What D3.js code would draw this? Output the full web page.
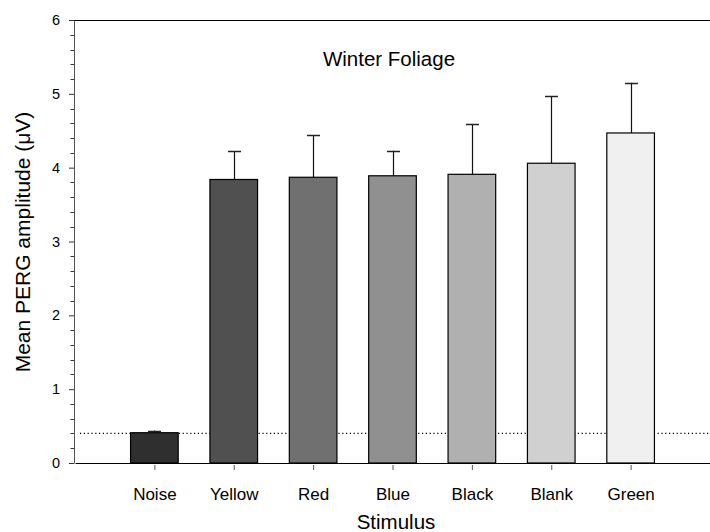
<!DOCTYPE html>
<html><head><meta charset="utf-8">
<script src="https://cdn.jsdelivr.net/npm/d3@7/dist/d3.min.js"></script>
<style>body{margin:0;background:#fff}svg{display:block;font-family:"Liberation Sans",Arial,sans-serif}</style>
</head><body><svg id="c" width="710" height="532"></svg>
<script>
const categories = ["Noise","Yellow","Red","Blue","Black","Blank","Green"];
const means = [0.41, 3.84, 3.87, 3.89, 3.91, 4.06, 4.47];
const errors = [0.03, 0.38, 0.57, 0.34, 0.68, 0.91, 0.68];
const fills = ["#2f2f2f","#505050","#707070","#909090","#b0b0b0","#d0d0d0","#f0f0f0"];
const yTicks = [0,1,2,3,4,5,6];
const noiseLevel = 0.4;

(function(){
const FONT = "Liberation Sans, Arial, sans-serif";
const svg = d3.select("#c");
const mLeft = 75, mRight = 710, mTop = 20, mBottom = 463;
const x = d3.scaleLinear().domain([0, 8]).range([mLeft, mRight]);
const y = d3.scaleLinear().domain([0, 6]).range([mBottom, mTop]);
const barW = x(0.6) - x(0);

// frame top line
svg.append("line").attr("x1", mLeft - 5).attr("x2", mRight).attr("y1", y(6) + 0.5).attr("y2", y(6) + 0.5).attr("stroke", "#000");

// minor y ticks
const minor = d3.range(0, 6.001, 0.2).filter(v => Math.abs(v - Math.round(v)) > 1e-6);
svg.append("g").selectAll("line").data(minor).join("line")
  .attr("x1", mLeft - 4.5).attr("x2", mLeft).attr("y1", d => Math.round(y(d)) + 0.5).attr("y2", d => Math.round(y(d)) + 0.5)
  .attr("stroke", "#333");

// y axis
const yAxis = svg.append("g").attr("transform", `translate(${mLeft - 1},0)`)
  .call(d3.axisLeft(y).tickValues(yTicks).tickSize(5).tickSizeOuter(0).tickPadding(9).tickFormat(d3.format("d")));
yAxis.select(".domain").attr("stroke", "#555");
yAxis.selectAll(".tick line").attr("stroke", "#333");
yAxis.selectAll("text").attr("font-size", 14.5).attr("fill", "#000").attr("font-family", FONT);

// x axis
const xAxis = svg.append("g").attr("transform", `translate(0,${mBottom})`)
  .call(d3.axisBottom(x).tickValues(d3.range(1, categories.length + 1)).tickSize(7).tickSizeOuter(0).tickPadding(18)
    .tickFormat((d) => categories[d - 1]));
xAxis.select(".domain").attr("stroke", "#000");
xAxis.selectAll(".tick line").attr("stroke", "#555").attr("y1", 2);
xAxis.selectAll("text").attr("font-size", 17).attr("fill", "#000").attr("font-family", FONT);

// noise dotted line
svg.append("line").attr("x1", x(0) + 5).attr("x2", mRight).attr("y1", y(noiseLevel)).attr("y2", y(noiseLevel))
  .attr("stroke", "#000").attr("stroke-dasharray", "1.2,2.6").attr("stroke-width", 1.2);

// error bars
const g = svg.append("g");
categories.forEach((c, i) => {
  const cx = Math.round(x(i + 1)) + 0.5;
  g.append("line").attr("x1", cx).attr("x2", cx).attr("y1", y(means[i])).attr("y2", y(means[i] + errors[i])).attr("stroke", "#111").attr("stroke-width", 1.2);
  g.append("line").attr("x1", cx - 6.5).attr("x2", cx + 6.5).attr("y1", Math.round(y(means[i] + errors[i])) + 0.5).attr("y2", Math.round(y(means[i] + errors[i])) + 0.5).attr("stroke", "#222").attr("stroke-width", 1.5);
});

// bars
g.selectAll("rect").data(means).join("rect")
  .attr("x", (d, i) => x(i + 1) - barW / 2)
  .attr("width", barW)
  .attr("y", d => y(d))
  .attr("height", d => y(0) - y(d))
  .attr("fill", (d, i) => fills[i])
  .attr("stroke", "#000").attr("stroke-width", 1.2);

// titles
svg.append("text").attr("x", 389).attr("y", 66).attr("text-anchor", "middle").attr("font-size", 20.5).attr("font-family", FONT).text("Winter Foliage");
svg.append("text").attr("x", 396).attr("y", 529).attr("text-anchor", "middle").attr("font-size", 20.5).attr("font-family", FONT).text("Stimulus");
svg.append("text").attr("transform", `translate(30,242) rotate(-90)`).attr("text-anchor", "middle").attr("font-size", 21).attr("font-family", FONT).text("Mean PERG amplitude (μV)");
})();
</script></body></html>
